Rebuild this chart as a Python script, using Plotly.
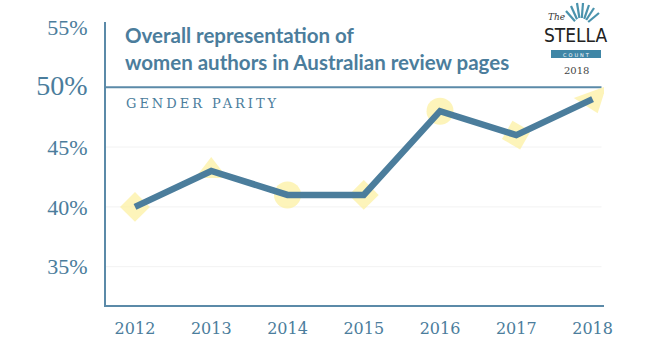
import plotly.graph_objects as go

years = ["2012", "2013", "2014", "2015", "2016", "2017", "2018"]
share = [40, 43, 41, 41, 48, 46, 49]
symbols = ["diamond", "triangle-up", "circle", "diamond", "circle", "square", "triangle-down"]
angles = [0, 0, 0, 0, 0, 30, -20]
sizes = [23, 28, 27, 23, 27, 21, 30]
ytick_vals = [35, 40, 45, 50, 55]
ytick_text = ["35%", "40%", "45%", '<span style="font-size:28px">50%</span>', "55%"]
grid_vals = [35, 40, 45]
parity = 50

BLUE = "#4b7d9c"
AXIS = "#5b8aa8"
YELLOW = "#fcef9c"

L, R, T, B = 106, 604, 22, 305
def px(x):
    return (x - L) / (R - L)
def py(y):
    return (B - y) / (B - T)

fig = go.Figure()
fig.add_trace(go.Scatter(
    x=list(range(len(years))), y=share, mode="markers",
    marker=dict(symbol=symbols, size=sizes, color=YELLOW, angle=angles, line=dict(width=0)),
    hoverinfo="skip", showlegend=False))
fig.add_trace(go.Scatter(
    x=list(range(len(years))), y=share, mode="lines",
    line=dict(color=BLUE, width=6.5), showlegend=False))

shapes = []
for g in grid_vals:
    shapes.append(dict(type="line", xref="paper", yref="y", x0=0, x1=0.995, y0=g, y1=g,
                       line=dict(color="#f2f2f2", width=1), layer="below"))
shapes.append(dict(type="line", xref="paper", yref="y", x0=0, x1=0.995, y0=parity, y1=parity,
                   line=dict(color=AXIS, width=2), layer="below"))
# logo rays
cx, cy = 581, 28
for ex, ey in [(566, 11), (571, 6), (577, 3), (583, 3), (589, 5), (594, 8), (599, 13)]:
    sx = cx + (ex - cx) * 0.4
    sy = cy + (ey - cy) * 0.4
    shapes.append(dict(type="line", xref="paper", yref="paper", x0=px(sx), y0=py(sy),
                       x1=px(ex), y1=py(ey), line=dict(color="#4a93ad", width=2.2)))
shapes.append(dict(type="rect", xref="paper", yref="paper", x0=px(551), x1=px(601),
                   y0=py(58), y1=py(50), fillcolor="#3f86a6", line=dict(width=0)))

def ann(text, x, y, font, xa="center", ya="middle"):
    return dict(text=text, xref="paper", yref="paper", x=px(x), y=py(y),
                xanchor=xa, yanchor=ya, showarrow=False, align="left", font=font)

annotations = [
    ann("Overall representation of<br>women authors in Australian review pages", 123, 21,
        dict(family="Lato", size=20.5, color=BLUE, weight="bold"), "left", "top"),
    ann('<span style="letter-spacing:3px">GENDER PARITY</span>', 124, 104,
        dict(family="DejaVu Serif", size=13, color=BLUE), "left", "middle"),
    ann("<i>The</i>", 556, 17, dict(family="DejaVu Serif", size=9, color="#333")),
    ann("STELLA", 576, 35, dict(family="DejaVu Sans Condensed, DejaVu Sans", size=19, color="#222")),
    ann('<span style="letter-spacing:2px">COUNT</span>', 577, 54.5,
        dict(family="DejaVu Sans", size=5, color="white")),
    ann("2018", 576, 70, dict(family="DejaVu Serif", size=10, color="#444")),
]

fig.update_layout(
    width=650, height=341, margin=dict(l=L, r=650 - R, t=T, b=341 - B, autoexpand=False),
    paper_bgcolor="white", plot_bgcolor="white",
    shapes=shapes, annotations=annotations,
    xaxis=dict(range=[-0.38, 6.15], tickvals=list(range(len(years))), ticktext=years,
               showgrid=False, zeroline=False, showline=True, linecolor=AXIS, linewidth=2,
               ticks="outside", ticklen=8, tickcolor="rgba(0,0,0,0)", automargin=False,
               tickfont=dict(family="DejaVu Serif", size=16, color=BLUE)),
    yaxis=dict(range=[31.8, 55.45], tickvals=ytick_vals, ticktext=ytick_text,
               showgrid=False, zeroline=False, automargin=False,
               showline=True, linecolor=AXIS, linewidth=2,
               ticks="outside", ticklen=12, tickcolor="rgba(0,0,0,0)",
               tickfont=dict(family="Liberation Serif", size=22, color=BLUE)),
)
fig.write_html("out.html")
